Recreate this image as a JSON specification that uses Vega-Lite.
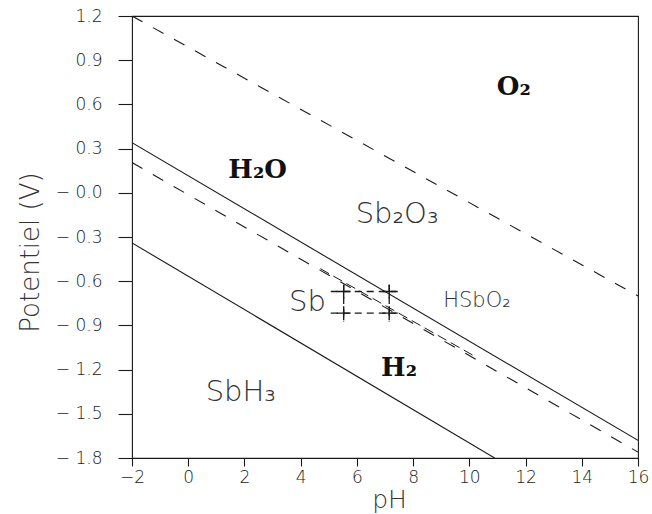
{
  "$schema": "https://vega.github.io/schema/vega-lite/v6.json",
  "width": 506,
  "height": 442,
  "autosize": "none",
  "padding": {"left": 132, "top": 16, "right": 14, "bottom": 56},
  "background": "white",
  "config": {
    "view": {"stroke": "#1a1a1a", "strokeWidth": 1.1},
    "axis": {
      "domain": false,
      "grid": false,
      "tickColor": "#1a1a1a",
      "tickWidth": 1.1,
      "labelFont": "DejaVu Sans",
      "labelFontWeight": 200,
      "labelColor": "#222",
      "titleFont": "DejaVu Sans",
      "titleFontWeight": 200,
      "titleColor": "#333"
    }
  },
  "datasets": {
    "lines": [
      {"line": "L1", "pH": -2, "E": 1.2},
      {"line": "L1", "pH": 16, "E": -0.70},
      {"line": "L2", "pH": -2, "E": 0.34},
      {"line": "L2", "pH": 16, "E": -1.68},
      {"line": "L3", "pH": -2, "E": 0.205},
      {"line": "L3", "pH": 16, "E": -1.76},
      {"line": "L4", "pH": -2, "E": -0.34},
      {"line": "L4", "pH": 10.9, "E": -1.8},
      {"line": "L5", "pH": 4.7, "E": -0.515},
      {"line": "L5", "pH": 10.15, "E": -1.105},
      {"line": "R1", "pH": 5.07, "E": -0.67},
      {"line": "R1", "pH": 7.5, "E": -0.67},
      {"line": "R2", "pH": 5.07, "E": -0.817},
      {"line": "R2", "pH": 7.5, "E": -0.817},
      {"line": "R3", "pH": 5.53, "E": -0.625},
      {"line": "R3", "pH": 5.53, "E": -0.874},
      {"line": "R4", "pH": 7.15, "E": -0.625},
      {"line": "R4", "pH": 7.15, "E": -0.874}
    ],
    "corners": [
      {"pH": 5.53, "E": -0.67},
      {"pH": 7.15, "E": -0.67},
      {"pH": 5.53, "E": -0.817},
      {"pH": 7.15, "E": -0.817}
    ],
    "labels": [
      {"label": "O₂", "group": "serif", "pH": 11.58, "E": 0.72},
      {"label": "H₂O", "group": "serif", "pH": 2.47, "E": 0.155},
      {"label": "H₂", "group": "serif", "pH": 7.5, "E": -1.188},
      {"label": "Sb₂O₃", "group": "sans", "pH": 7.43, "E": -0.143},
      {"label": "Sb", "group": "sans", "pH": 4.24, "E": -0.74},
      {"label": "SbH₃", "group": "sans", "pH": 1.87, "E": -1.35},
      {"label": "HSbO₂", "group": "small", "pH": 10.27, "E": -0.735}
    ]
  },
  "layer": [
    {
      "data": {"name": "lines"},
      "transform": [{"filter": "datum.line == 'L2' || datum.line == 'L4'"}],
      "mark": {"type": "line", "color": "#1a1a1a", "strokeWidth": 1.1, "clip": true},
      "encoding": {
        "x": {
          "field": "pH", "type": "quantitative",
          "scale": {"domain": [-2, 16], "nice": false, "zero": false},
          "axis": {
            "title": "pH",
            "values": [-2, -1, 0, 1, 2, 3, 4, 5, 6, 7, 8, 9, 10, 11, 12, 13, 14, 15, 16],
            "tickSize": 8,
            "tickDash": {"condition": {"test": "datum.value % 2 == 0", "value": []}, "value": [6, 30]},
            "labelExpr": "datum.value % 2 == 0 ? (datum.value < 0 ? '−' + abs(datum.value) : '' + datum.value) : ''",
            "labelFontSize": 17,
            "labelPadding": 3,
            "labelFlush": false,
            "labelOverlap": false,
            "titleFontSize": 25,
            "titleX": 257,
            "titleY": 41,
            "titleBaseline": "middle",
            "titleAlign": "center"
          }
        },
        "y": {
          "field": "E", "type": "quantitative",
          "scale": {"domain": [-1.8, 1.2], "nice": false, "zero": false},
          "axis": {
            "title": "Potentiel (V)",
            "values": [-1.8, -1.65, -1.5, -1.35, -1.2, -1.05, -0.9, -0.75, -0.6, -0.45, -0.3, -0.15, 0, 0.15, 0.3, 0.45, 0.6, 0.75, 0.9, 1.05, 1.2],
            "tickSize": 14,
            "tickDash": {"condition": {"test": "abs(datum.value*10/3 - round(datum.value*10/3)) < 0.01", "value": []}, "value": [9, 40]},
            "labelExpr": "abs(datum.value*10/3 - round(datum.value*10/3)) < 0.01 ? (datum.value <= 0 ? '− ' + format(abs(datum.value), '.1f') : format(datum.value, '.1f')) : ''",
            "labelFontSize": 17,
            "labelPadding": 16,
            "labelFlush": false,
            "labelOverlap": false,
            "titleFontSize": 26,
            "titleAngle": -90,
            "titleX": -102,
            "titleY": 236,
            "titleBaseline": "middle",
            "titleAlign": "center"
          }
        },
        "detail": {"field": "line"}
      }
    },
    {
      "data": {"name": "lines"},
      "transform": [{"filter": "datum.line == 'L1' || datum.line == 'L3'"}],
      "mark": {"type": "line", "color": "#1a1a1a", "strokeWidth": 1.1, "strokeDash": [12, 12], "clip": true},
      "encoding": {
        "x": {"field": "pH", "type": "quantitative"},
        "y": {"field": "E", "type": "quantitative"},
        "detail": {"field": "line"}
      }
    },
    {
      "data": {"name": "lines"},
      "transform": [{"filter": "datum.line == 'L5'"}],
      "mark": {"type": "line", "color": "#1a1a1a", "strokeWidth": 1, "strokeDash": [10, 5]},
      "encoding": {
        "x": {"field": "pH", "type": "quantitative"},
        "y": {"field": "E", "type": "quantitative"},
        "detail": {"field": "line"}
      }
    },
    {
      "data": {"name": "lines"},
      "transform": [{"filter": "indexof(datum.line, 'R') == 0"}],
      "mark": {"type": "line", "color": "#1a1a1a", "strokeWidth": 1.3, "strokeDash": [7, 5]},
      "encoding": {
        "x": {"field": "pH", "type": "quantitative"},
        "y": {"field": "E", "type": "quantitative"},
        "detail": {"field": "line"}
      }
    },
    {
      "data": {"name": "corners"},
      "mark": {"type": "point", "shape": "M-1,0L1,0M0,-1L0,1", "size": 196, "stroke": "#1a1a1a", "strokeWidth": 1.4, "filled": false, "opacity": 1},
      "encoding": {
        "x": {"field": "pH", "type": "quantitative"},
        "y": {"field": "E", "type": "quantitative"}
      }
    },
    {
      "data": {"name": "labels"},
      "transform": [{"filter": "datum.group == 'serif'"}],
      "mark": {"type": "text", "font": "DejaVu Serif", "fontWeight": "bold", "fontSize": 26, "color": "#111", "align": "center", "baseline": "middle"},
      "encoding": {
        "x": {"field": "pH", "type": "quantitative"},
        "y": {"field": "E", "type": "quantitative"},
        "text": {"field": "label"}
      }
    },
    {
      "data": {"name": "labels"},
      "transform": [{"filter": "datum.group == 'sans'"}],
      "mark": {"type": "text", "font": "DejaVu Sans", "fontWeight": 200, "fontSize": 29, "color": "#333", "align": "center", "baseline": "middle"},
      "encoding": {
        "x": {"field": "pH", "type": "quantitative"},
        "y": {"field": "E", "type": "quantitative"},
        "text": {"field": "label"}
      }
    },
    {
      "data": {"name": "labels"},
      "transform": [{"filter": "datum.group == 'small'"}],
      "mark": {"type": "text", "font": "DejaVu Sans", "fontWeight": 200, "fontSize": 21, "color": "#333", "align": "center", "baseline": "middle"},
      "encoding": {
        "x": {"field": "pH", "type": "quantitative"},
        "y": {"field": "E", "type": "quantitative"},
        "text": {"field": "label"}
      }
    }
  ]
}
